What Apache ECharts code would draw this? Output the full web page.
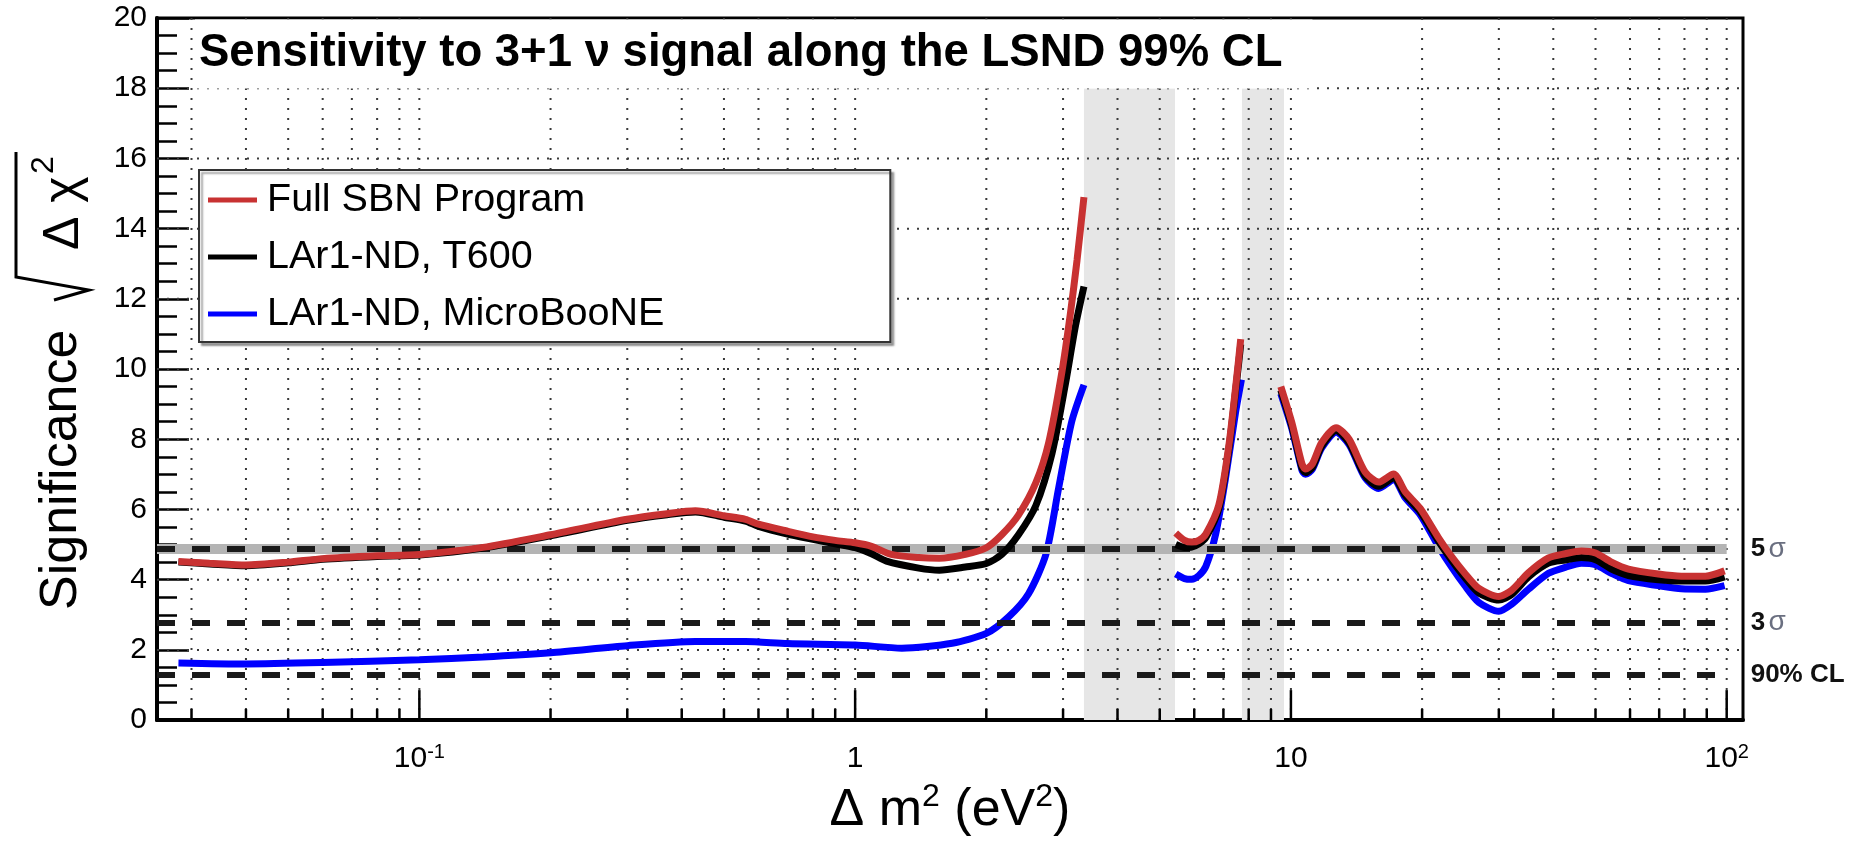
<!DOCTYPE html>
<html>
<head>
<meta charset="utf-8">
<title>SBN sensitivity along LSND 99% CL</title>
<script src="https://cdn.jsdelivr.net/npm/echarts@6.0.0/dist/echarts.min.js"></script>
<style>
  html, body { margin: 0; padding: 0; background: #fff; }
  #chart { width: 1865px; height: 842px; }
</style>
</head>
<body>
<div id="chart"></div>
<script>
// axis ranges
const xMin = 0.025;
const xMax = 109;
const yMin = 0;
const yMax = 20;

const FONT = 'Liberation Sans, Arial, Helvetica, sans-serif';

const seriesNames = ['Full SBN Program', 'LAr1-ND, T600', 'LAr1-ND, MicroBooNE'];
const seriesColors = ['#c83232', '#000000', '#0000ff'];

// [dm2 (eV^2), sqrt(dchi2)], three pieces each
const fullSeg1 = [[0.028, 4.52], [0.033, 4.47], [0.04, 4.42], [0.05, 4.5], [0.06, 4.6], [0.08, 4.68], [0.1, 4.72], [0.14, 4.92], [0.2, 5.28], [0.3, 5.72], [0.37, 5.88], [0.43, 5.96], [0.5, 5.82], [0.56, 5.72], [0.6, 5.58], [0.7, 5.38], [0.8, 5.22], [0.9, 5.12], [1.0, 5.05], [1.09, 4.95], [1.21, 4.72], [1.4, 4.63], [1.56, 4.61], [1.79, 4.72], [2.0, 4.91], [2.17, 5.28], [2.37, 5.84], [2.6, 6.77], [2.78, 7.9], [2.98, 9.9], [3.12, 11.6], [3.23, 13.1], [3.35, 14.9]];
const fullSeg2 = [[5.44, 5.33], [5.7, 5.12], [5.92, 5.07], [6.15, 5.12], [6.38, 5.3], [6.83, 6.12], [7.2, 7.8], [7.5, 9.7], [7.67, 10.85]];
const fullSeg3 = [[9.48, 9.5], [10.05, 8.47], [10.6, 7.3], [10.8, 7.15], [11.2, 7.3], [11.76, 7.9], [12.7, 8.33], [13.6, 8.0], [14.8, 7.07], [15.9, 6.78], [17.2, 7.01], [18.3, 6.5], [19.8, 6.03], [21.8, 5.2], [23.4, 4.65], [25, 4.2], [27, 3.75], [30, 3.52], [32.1, 3.7], [35.1, 4.2], [39, 4.62], [42.6, 4.74], [46.4, 4.82], [50, 4.76], [54.4, 4.5], [59.5, 4.3], [69.7, 4.16], [78.7, 4.1], [89.4, 4.1], [98.9, 4.25]];

const t600Seg1 = [[0.028, 4.5], [0.033, 4.45], [0.04, 4.4], [0.05, 4.48], [0.06, 4.58], [0.08, 4.66], [0.1, 4.7], [0.14, 4.9], [0.2, 5.25], [0.3, 5.69], [0.37, 5.85], [0.43, 5.93], [0.5, 5.78], [0.56, 5.67], [0.6, 5.52], [0.7, 5.3], [0.8, 5.15], [0.9, 5.02], [1.0, 4.91], [1.09, 4.74], [1.18, 4.53], [1.4, 4.33], [1.56, 4.27], [1.79, 4.36], [2.0, 4.46], [2.17, 4.72], [2.37, 5.28], [2.6, 6.12], [2.83, 7.6], [3.04, 9.6], [3.2, 11.2], [3.35, 12.35]];
const t600Seg2 = [[5.44, 5.0], [5.7, 4.92], [5.92, 4.93], [6.15, 5.02], [6.38, 5.2], [6.83, 6.02], [7.2, 7.7], [7.5, 9.6], [7.67, 10.7]];
const t600Seg3 = [[9.48, 9.4], [10.05, 8.37], [10.6, 7.18], [10.8, 7.05], [11.2, 7.2], [11.76, 7.8], [12.7, 8.25], [13.6, 7.9], [14.8, 6.95], [15.9, 6.66], [17.2, 6.9], [18.3, 6.4], [19.8, 5.94], [21.8, 5.1], [23.4, 4.55], [25, 4.08], [27, 3.62], [30, 3.42], [32.1, 3.58], [35.1, 4.08], [39, 4.47], [42.6, 4.56], [46.4, 4.63], [50, 4.57], [54.4, 4.3], [59.5, 4.12], [69.7, 4.0], [78.7, 3.96], [89.4, 3.96], [98.9, 4.08]];

const uboneSeg1 = [[0.028, 1.63], [0.04, 1.6], [0.06, 1.64], [0.1, 1.72], [0.14, 1.8], [0.2, 1.92], [0.3, 2.12], [0.43, 2.24], [0.56, 2.24], [0.7, 2.18], [1.0, 2.14], [1.28, 2.05], [1.67, 2.19], [2.0, 2.47], [2.25, 2.94], [2.5, 3.6], [2.74, 4.72], [2.93, 6.6], [3.14, 8.5], [3.35, 9.55]];
const uboneSeg2 = [[5.44, 4.16], [5.7, 4.03], [5.92, 4.01], [6.15, 4.12], [6.38, 4.38], [6.72, 5.3], [7.08, 6.9], [7.46, 8.75], [7.7, 9.7]];
const uboneSeg3 = [[9.48, 9.3], [10.05, 8.3], [10.6, 7.12], [10.8, 7.0], [11.2, 7.15], [11.76, 7.75], [12.7, 8.2], [13.6, 7.85], [14.8, 6.9], [15.9, 6.6], [17.2, 6.85], [18.3, 6.33], [19.8, 5.85], [21.8, 4.95], [23.4, 4.35], [25, 3.85], [27, 3.35], [30, 3.1], [32.1, 3.3], [35.1, 3.73], [39, 4.18], [42.6, 4.35], [46.4, 4.47], [50, 4.43], [54.4, 4.18], [59.5, 3.97], [69.7, 3.83], [78.7, 3.74], [89.4, 3.73], [98.9, 3.83]];

// grid / tick positions
const gridX = [0.03, 0.04, 0.05, 0.06, 0.07, 0.08, 0.09, 0.1, 0.2, 0.3, 0.4, 0.5, 0.6, 0.7, 0.8, 0.9, 1, 2, 3, 4, 5, 6, 7, 8, 9, 10, 20, 30, 40, 50, 60, 70, 80, 90, 100];
const gridY = [2, 4, 6, 8, 10, 12, 14, 16, 18];
const decades = [0.1, 1, 10, 100];
const decadeLabels = ['10{s|-1}', '1', '10', '10{s|2}'];

// significance reference lines
const sigmaLevels = [4.87, 2.78, 1.28];
const sigmaLabels = ['{n|5} {g|σ}', '{n|3} {g|σ}', '{n|90% CL}'];
const sigmaLineEnd = 100;

// excluded (grey) dm2 bands
const bands = [[3.35, 5.42], [7.72, 9.64]];
const bandTop = 18;

const chart = echarts.init(document.getElementById('chart'));

function renderVGrid(params, api) {
  const x = api.value(0);
  const p0 = api.coord([x, yMin]);
  const p1 = api.coord([x, yMax]);
  const major = decades.indexOf(x) >= 0;
  return {
    type: 'group',
    children: [
      { type: 'line', shape: { x1: p0[0], y1: p0[1], x2: p1[0], y2: p1[1] },
        style: { stroke: '#3a3a3a', lineWidth: 2, lineDash: [2, 8] } },
      { type: 'line', shape: { x1: p0[0], y1: p0[1], x2: p0[0], y2: p0[1] - (major ? 30 : 11) },
        style: { stroke: '#000', lineWidth: 2.5 } }
    ]
  };
}

function renderHGrid(params, api) {
  const y = api.value(1);
  const p0 = api.coord([xMin, y]);
  const p1 = api.coord([xMax, y]);
  return {
    type: 'line',
    shape: { x1: p0[0], y1: p0[1], x2: p1[0], y2: p1[1] },
    style: { stroke: '#3a3a3a', lineWidth: 2, lineDash: [2, 8] }
  };
}

const refData = [];
refData.push([
  { coord: [xMin, sigmaLevels[0]], lineStyle: { color: '#b4b4b4', width: 10, type: 'solid' }, label: { show: false } },
  { coord: [sigmaLineEnd, sigmaLevels[0]] }
]);
sigmaLevels.forEach(function (v, i) {
  refData.push([
    { coord: [xMin, v], label: { formatter: sigmaLabels[i] } },
    { coord: [sigmaLineEnd, v] }
  ]);
});

const segs = [
  [fullSeg1, fullSeg2, fullSeg3],
  [t600Seg1, t600Seg2, t600Seg3],
  [uboneSeg1, uboneSeg2, uboneSeg3]
];

const curveSeries = [];
// draw blue first, red on top
[2, 1, 0].forEach(function (k, order) {
  segs[k].forEach(function (seg) {
    curveSeries.push({
      type: 'line',
      name: seriesNames[k],
      data: seg,
      showSymbol: false,
      smooth: 0.25,
      z: 4 + order,
      silent: true,
      itemStyle: { color: seriesColors[k] },
      lineStyle: { color: seriesColors[k], width: 7 }
    });
  });
});

const option = {
  animation: false,
  backgroundColor: '#fff',
  textStyle: { fontFamily: FONT },
  title: {
    text: 'Sensitivity to 3+1 ν signal along the LSND 99% CL',
    left: 195,
    top: 20,
    padding: [11, 30, 12, 4],
    backgroundColor: '#fff',
    z: 10,
    textStyle: { fontSize: 45.5, fontWeight: 'bold', color: '#000', fontFamily: FONT, lineHeight: 45 }
  },
  legend: {
    data: seriesNames,
    orient: 'vertical',
    left: 199,
    top: 170,
    icon: 'rect',
    itemWidth: 49,
    itemHeight: 5,
    itemGap: 17,
    padding: [10, 226, 8, 9],
    backgroundColor: '#fff',
    borderColor: '#333',
    borderWidth: 2,
    shadowColor: 'rgba(0,0,0,0.35)',
    shadowOffsetX: 3,
    shadowOffsetY: 3,
    shadowBlur: 2,
    selectedMode: false,
    z: 10,
    textStyle: { fontSize: 39.5, lineHeight: 40, color: '#000', fontFamily: FONT, padding: [0, 0, 0, 5] }
  },
  grid: {
    left: 157, right: 122, top: 18, bottom: 114,
    show: true, borderColor: '#000', borderWidth: 3
  },
  xAxis: {
    type: 'log',
    logBase: 10,
    min: xMin,
    max: xMax,
    name: '{a|Δ m}{s|2}{a| (eV}{s|2}{a|)}',
    nameLocation: 'middle',
    nameGap: 48,
    nameTextStyle: {
      rich: {
        a: { fontSize: 52, fontFamily: FONT, color: '#000', lineHeight: 60 },
        s: { fontSize: 32, fontFamily: FONT, color: '#000', lineHeight: 36, verticalAlign: 'top' }
      }
    },
    axisLine: { lineStyle: { color: '#000', width: 4 } },
    axisTick: { show: false },
    minorTick: { show: false },
    splitLine: { show: false },
    axisLabel: {
      fontSize: 30,
      lineHeight: 34,
      color: '#000',
      fontFamily: FONT,
      margin: 22,
      formatter: function (v) {
        for (let i = 0; i < decades.length; i++) {
          if (Math.abs(Math.log10(v) - Math.log10(decades[i])) < 1e-6) return decadeLabels[i];
        }
        return '';
      },
      rich: {
        s: { fontSize: 20, fontFamily: FONT, color: '#000', lineHeight: 22, verticalAlign: 'top' }
      }
    }
  },
  yAxis: {
    type: 'value',
    min: yMin,
    max: yMax,
    interval: 2,
    axisLine: { show: true, lineStyle: { color: '#000', width: 4 } },
    axisTick: { show: true, inside: true, length: 32, lineStyle: { color: '#000', width: 2.5 } },
    minorTick: { show: true, splitNumber: 4, length: 20, lineStyle: { color: '#000', width: 2.5 } },
    splitLine: { show: false },
    axisLabel: { fontSize: 30, color: '#000', fontFamily: FONT, margin: 10 }
  },
  graphic: [{
    type: 'group',
    x: 0,
    y: 0,
    rotation: Math.PI / 2,
    z: 10,
    silent: true,
    children: [
      { type: 'text', x: -610, y: 62,
        style: { text: 'Significance', fontSize: 52, fontFamily: FONT, fill: '#000', textAlign: 'left', textVerticalAlign: 'middle' } },
      { type: 'polyline', shape: { points: [[-300, 54], [-290, 89], [-277, 16], [-152, 16]] },
        style: { stroke: '#000', lineWidth: 3, fill: null } },
      { type: 'text', x: -250, y: 64,
        style: { text: 'Δ χ', fontSize: 50, fontFamily: FONT, fill: '#000', textAlign: 'left', textVerticalAlign: 'middle' } },
      { type: 'text', x: -174, y: 44,
        style: { text: '2', fontSize: 32, fontFamily: FONT, fill: '#000', textAlign: 'left', textVerticalAlign: 'middle' } }
    ]
  }],
  series: [
    {
      type: 'line',
      data: [],
      z: 1,
      silent: true,
      markArea: {
        silent: true,
        itemStyle: { color: '#e6e6e6' },
        data: bands.map(function (b) { return [{ coord: [b[0], yMin] }, { coord: [b[1], bandTop] }]; })
      }
    },
    {
      type: 'custom',
      data: gridX.map(function (v) { return [v, yMin]; }),
      renderItem: renderVGrid,
      silent: true,
      z: 2
    },
    {
      type: 'custom',
      data: gridY.map(function (v) { return [xMin, v]; }),
      renderItem: renderHGrid,
      silent: true,
      z: 2
    },
    {
      type: 'line',
      data: [],
      z: 3,
      silent: true,
      markLine: {
        silent: true,
        symbol: 'none',
        animation: false,
        lineStyle: { color: '#1a1a1a', width: 6, type: [18, 17] },
        label: {
          position: 'end',
          distance: 24,
          rich: {
            n: { fontSize: 26, fontWeight: 'bold', color: '#111', fontFamily: FONT },
            g: { fontSize: 28, color: '#6a6f80', fontFamily: FONT }
          }
        },
        data: refData
      }
    }
  ].concat(curveSeries)
};

chart.setOption(option);
</script>
</body>
</html>
